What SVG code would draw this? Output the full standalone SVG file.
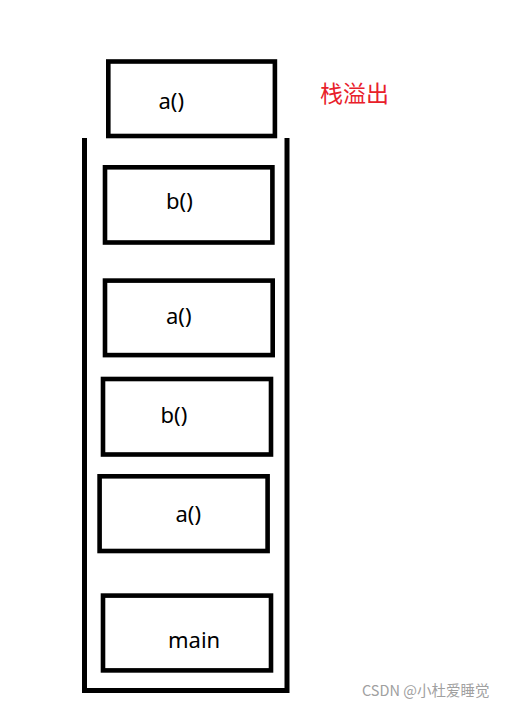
<svg xmlns="http://www.w3.org/2000/svg" width="506" height="706" viewBox="0 0 506 706">
<style>
.box{fill:none;stroke:#000;stroke-width:4.6}
.lbl{font-family:"Noto Sans","Open Sans",sans-serif;font-size:22px;fill:#000}
.wall{fill:none;stroke:#000;stroke-width:5}
</style>
<rect width="506" height="706" fill="#fff"/>
<g id="stack">
<path class="wall" d="M84.5 138 V690.5 H287 V138"/>
</g>
<g id="frame-a-overflow">
<rect class="box" x="108.3" y="61.5" width="166.6" height="74.5"/>
<text class="lbl" x="158.5" y="109">a()</text>
</g>
<g id="overflow-label">
<text x="320" y="102" style="font-family:'Noto Sans CJK SC',sans-serif;font-size:23px;fill:#e8202a">栈溢出</text>
</g>
<g id="frame-b1">
<rect class="box" x="105" y="167.3" width="167.4" height="75.2"/>
<text class="lbl" x="166" y="208.5">b()</text>
</g>
<g id="frame-a2">
<rect class="box" x="105" y="280.6" width="167.7" height="74.5"/>
<text class="lbl" x="166" y="324">a()</text>
</g>
<g id="frame-b3">
<rect class="box" x="103" y="379" width="168" height="75.5"/>
<text class="lbl" x="160.5" y="423.3">b()</text>
</g>
<g id="frame-a4">
<rect class="box" x="99.6" y="476.3" width="168" height="74.7"/>
<text class="lbl" x="175.5" y="521.7">a()</text>
</g>
<g id="frame-main">
<rect class="box" x="103" y="595.6" width="168" height="74.8"/>
<text class="lbl" x="168" y="648.3">main</text>
</g>
<g id="connectors"/>
<text x="362" y="696" style="font-family:'Noto Sans CJK SC',sans-serif;font-size:14.5px;fill:#a0a0a0">CSDN @小杜爱睡觉</text>
</svg>
